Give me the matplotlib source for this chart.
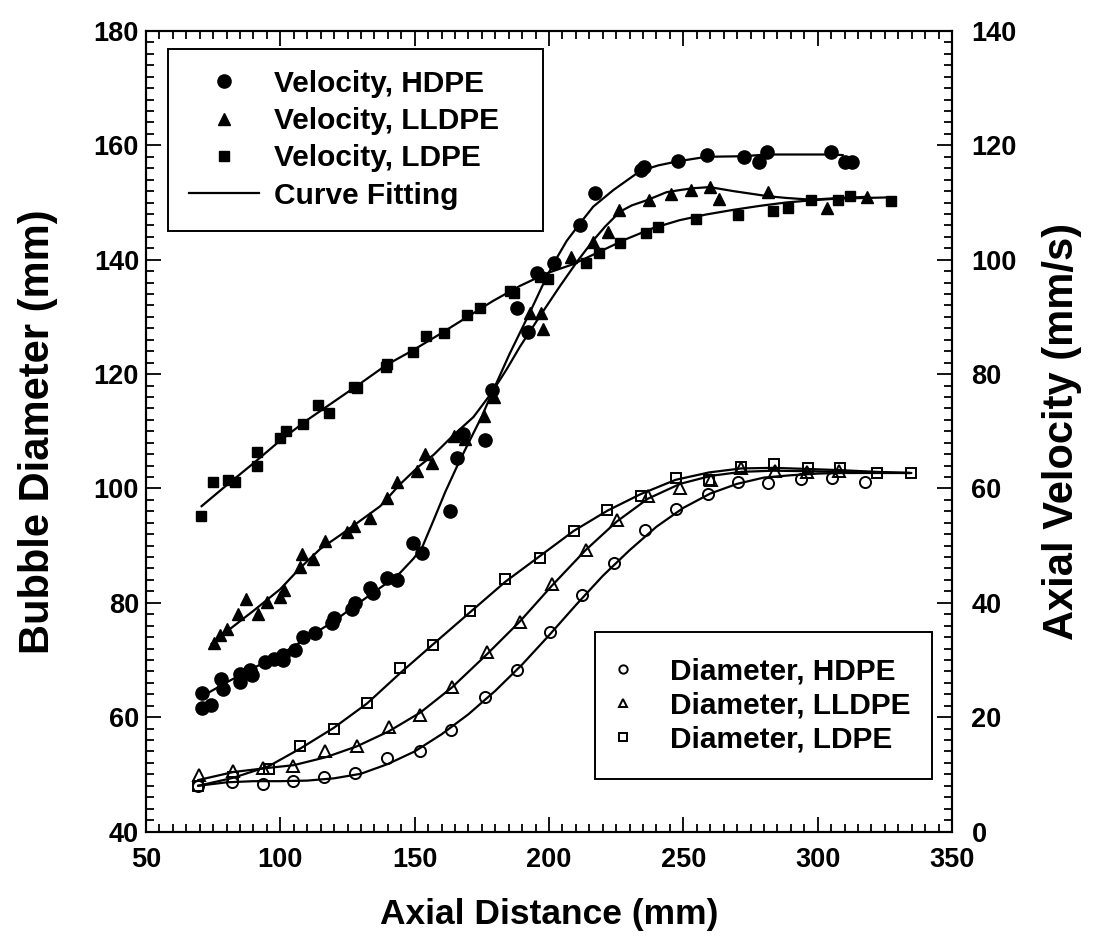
import matplotlib
matplotlib.use("Agg")
import matplotlib.pyplot as plt
from matplotlib.ticker import MultipleLocator

plt.rcParams["font.family"] = ["Liberation Sans", "DejaVu Sans"]
plt.rcParams["font.weight"] = "bold"
plt.rcParams["axes.labelweight"] = "bold"

# ---- measured points: axial velocity (mm/s) ----
vel_hdpe_x = [70.7, 70.7, 74.1, 78.1, 78.8, 85.1, 85.1, 88.7, 89.3, 94.4, 97.5, 101.1, 101.1,
              105.5, 108.6, 113.0, 119.2, 119.8, 126.6, 127.9, 133.4, 134.6, 139.7, 143.3,
              149.5, 152.7, 163.3, 165.9, 167.9, 176.2, 178.6, 188.0, 192.3, 195.6, 201.7,
              211.6, 217.3, 234.1, 235.4, 248.1, 258.7, 272.6, 278.2, 281.3, 305.0, 310.1, 312.6]
vel_hdpe_y = [24.2, 21.6, 22.1, 26.7, 25.0, 27.6, 26.2, 28.2, 27.3, 29.7, 30.2, 30.9, 30.0,
              31.7, 34.1, 34.7, 36.4, 37.3, 39.0, 39.9, 42.6, 41.7, 44.3, 44.0,
              50.4, 48.7, 56.0, 65.3, 69.6, 68.5, 77.3, 91.5, 87.4, 97.7, 99.4,
              106.1, 111.6, 115.7, 116.2, 117.2, 118.3, 118.0, 117.1, 118.8, 118.8, 117.1, 117.1]

vel_lldpe_x = [75.3, 77.5, 80.3, 84.4, 87.4, 91.8, 94.9, 100.0, 101.2, 107.4, 108.0, 112.3,
               116.7, 124.7, 127.3, 133.4, 139.7, 143.3, 150.8, 154.0, 156.5, 164.6, 168.9,
               175.7, 179.5, 193.1, 197.2, 197.6, 208.3, 216.5, 222.0, 225.9, 237.1, 245.3,
               252.8, 259.8, 263.2, 281.6, 303.6, 318.5]
vel_lldpe_y = [32.9, 34.3, 35.5, 38.1, 40.6, 38.1, 40.2, 41.0, 42.2, 46.2, 48.5, 47.7,
               50.8, 52.3, 53.5, 54.9, 58.4, 61.2, 63.1, 66.1, 64.5, 69.1, 68.6,
               72.6, 76.0, 90.7, 90.7, 87.8, 100.5, 103.1, 104.8, 108.7, 110.4, 111.5,
               112.2, 112.7, 110.6, 111.8, 109.0, 110.9]

vel_ldpe_x = [70.5, 74.9, 80.7, 83.2, 91.2, 91.5, 100.0, 102.0, 108.6, 114.2, 118.3, 127.3,
              128.5, 139.3, 139.6, 149.5, 154.1, 160.8, 169.4, 174.3, 185.6, 186.8, 196.7,
              199.6, 213.6, 218.6, 226.6, 236.0, 240.7, 254.7, 270.3, 283.3, 288.9, 297.6,
              307.6, 311.9, 327.4]
vel_ldpe_y = [55.2, 61.2, 61.5, 61.2, 64.0, 66.3, 68.8, 70.1, 71.2, 74.6, 73.2, 77.7,
              77.6, 81.3, 81.7, 83.8, 86.6, 87.1, 90.4, 91.5, 94.5, 94.2, 97.0,
              96.7, 99.4, 101.1, 102.9, 104.6, 105.7, 107.1, 107.8, 108.5, 109.0, 110.4,
              110.4, 111.1, 110.2]

# ---- fitted curves: axial velocity (mm/s) ----
fit_vh_x = [70.7, 80.1, 90.0, 100.0, 109.8, 119.7, 129.6, 139.5, 144.5, 149.5, 152.7, 157.1,
            161.4, 166.3, 170.3, 175.0, 178.6, 185.2, 193.2, 198.7, 202.0, 206.6, 211.6,
            216.5, 224.0, 233.9, 240.7, 247.8, 258.6, 272.5, 281.1, 304.9, 309.3]
fit_vh_y = [23.6, 26.1, 28.6, 30.9, 33.8, 36.7, 40.1, 43.4, 45.2, 47.7, 49.6, 54.5,
            59.4, 64.4, 68.2, 72.6, 76.5, 83.4, 91.1, 96.6, 99.6, 103.3, 106.4,
            109.3, 112.2, 115.5, 116.5, 117.2, 118.0, 118.1, 118.4, 118.4, 118.3]

fit_vl_x = [74.4, 80.1, 90.0, 100.0, 107.4, 114.8, 122.2, 129.6, 137.2, 144.5, 151.4, 157.1,
            164.4, 171.9, 178.6, 184.2, 189.2, 196.7, 204.1, 210.5, 216.5, 220.9, 226.4,
            230.8, 236.4, 243.7, 249.0, 253.6, 259.8, 268.6, 281.6, 288.4, 297.6, 308.3, 318.2]
fit_vl_y = [32.8, 35.0, 38.6, 42.4, 46.1, 49.4, 51.8, 54.3, 56.9, 60.7, 63.8, 65.9,
            69.3, 72.5, 76.7, 80.8, 84.8, 90.2, 95.4, 99.7, 103.4, 105.8, 108.4,
            109.5, 110.4, 111.8, 112.2, 112.5, 112.7, 112.0, 111.1, 110.8, 110.5, 110.8, 111.0]

fit_vd_x = [70.7, 80.1, 90.0, 100.0, 109.8, 119.7, 129.6, 139.5, 149.5, 159.4, 169.3, 179.2,
            189.1, 199.0, 208.9, 218.8, 228.7, 238.6, 248.5, 258.4, 268.3, 278.2, 288.1,
            298.0, 307.9, 317.8, 326.7]
fit_vd_y = [56.9, 60.6, 64.4, 68.4, 71.9, 75.1, 78.3, 81.6, 84.2, 87.0, 89.9, 92.8,
            95.4, 97.6, 99.2, 101.4, 103.6, 105.5, 106.9, 107.9, 108.7, 109.4, 110.0,
            110.4, 110.7, 110.8, 110.9]

# ---- measured points: bubble diameter (mm) ----
dia_hdpe_x = [69.5, 81.9, 93.7, 104.9, 116.1, 127.9, 139.7, 151.9, 163.6, 176.0, 188.1, 200.5,
              212.3, 224.1, 235.9, 247.3, 259.1, 270.5, 281.4, 293.9, 305.2, 317.6]
dia_hdpe_y = [47.9, 48.6, 48.3, 48.9, 49.6, 50.2, 52.8, 54.0, 57.7, 63.5, 68.3, 74.9,
              81.4, 87.0, 92.8, 96.4, 99.1, 101.1, 101.0, 101.6, 101.9, 101.1]

dia_lldpe_x = [69.8, 82.5, 93.6, 104.9, 116.7, 128.5, 140.3, 152.1, 163.9, 176.9, 189.3, 201.1,
               213.6, 225.2, 236.8, 248.8, 260.3, 271.6, 284.0, 296.0, 308.0]
dia_lldpe_y = [49.9, 50.6, 51.1, 51.5, 54.0, 54.9, 58.3, 60.3, 65.2, 71.4, 76.6, 83.3,
               89.3, 94.4, 98.6, 100.0, 101.4, 103.5, 103.0, 102.8, 103.0]

dia_ldpe_x = [69.5, 82.5, 95.6, 107.4, 119.8, 132.3, 144.6, 157.0, 170.5, 183.8, 196.7, 209.3,
              221.7, 234.1, 247.1, 259.6, 271.6, 283.8, 296.4, 308.2, 321.9, 334.8]
dia_ldpe_y = [48.0, 49.5, 51.0, 54.9, 58.0, 62.4, 68.6, 72.7, 78.6, 84.1, 87.9, 92.5,
              96.3, 98.7, 101.9, 101.4, 103.7, 104.3, 103.6, 103.6, 102.7, 102.7]

# ---- fitted curves: bubble diameter (mm) ----
fit_dh_x = [69.5, 80, 90, 100, 110, 120, 130, 140, 150, 160, 170, 180, 190, 200, 210, 220,
            230, 240, 250, 260, 270, 280, 290, 300, 310, 320, 334]
fit_dh_y = [48.0, 48.6, 48.8, 48.8, 48.9, 49.3, 50.1, 51.8, 54.0, 57.0, 60.5, 64.6, 69.2,
            74.3, 79.6, 84.7, 89.2, 93.3, 96.6, 99.1, 100.8, 101.9, 102.3, 102.6, 102.7,
            102.7, 102.7]

fit_dl_x = [69.5, 82.5, 95.0, 105.0, 117.0, 128.5, 140.3, 152.1, 163.9, 176.9, 189.3, 201.1,
            213.6, 225.2, 236.8, 248.8, 260.3, 271.6, 283.5, 298.0, 315.0, 334.0]
fit_dl_y = [49.0, 50.4, 51.1, 51.6, 53.0, 54.9, 57.5, 60.8, 65.2, 71.0, 76.8, 83.0,
            89.2, 94.2, 98.2, 100.8, 102.2, 102.9, 103.1, 103.0, 102.8, 102.7]

fit_dd_x = [69.5, 82.5, 95.6, 107.4, 119.8, 132.3, 144.6, 157.0, 170.5, 183.8, 196.7, 209.3,
            221.7, 234.1, 247.1, 259.6, 271.6, 283.8, 296.4, 308.2, 321.9, 334.8]
fit_dd_y = [48.0, 49.4, 51.4, 54.5, 58.1, 62.4, 67.7, 72.8, 78.3, 83.7, 88.2, 92.6,
            96.1, 99.0, 101.5, 102.8, 103.5, 103.6, 103.4, 103.2, 102.9, 102.7]

W, H = 1104, 951
fig = plt.figure(figsize=(W / 100, H / 100), dpi=100)
L, R, T, B = 146, 952, 31, 831.5
ax1 = fig.add_axes([L / W, 1 - B / H, (R - L) / W, (B - T) / H])
ax2 = ax1.twinx()

line_kw = dict(color="black", lw=1.6, zorder=2)

# diameter on the left axis
ax1.plot(fit_dh_x, fit_dh_y, **line_kw)
ax1.plot(fit_dl_x, fit_dl_y, **line_kw)
ax1.plot(fit_dd_x, fit_dd_y, **line_kw)
open_kw = dict(ls="none", mfc="none", mec="black", mew=1.4, zorder=3)
h_dh, = ax1.plot(dia_hdpe_x, dia_hdpe_y, "o", ms=8, label="Diameter, HDPE", **open_kw)
h_dl, = ax1.plot(dia_lldpe_x, dia_lldpe_y, "^", ms=8, label="Diameter, LLDPE", **open_kw)
h_dd, = ax1.plot(dia_ldpe_x, dia_ldpe_y, "s", ms=7, label="Diameter, LDPE", **open_kw)

# velocity on the right axis
h_fit, = ax2.plot(fit_vh_x, fit_vh_y, label="Curve Fitting", **line_kw)
ax2.plot(fit_vl_x, fit_vl_y, **line_kw)
ax2.plot(fit_vd_x, fit_vd_y, **line_kw)
fill_kw = dict(ls="none", color="black", zorder=3)
h_vh, = ax2.plot(vel_hdpe_x, vel_hdpe_y, "o", ms=9.5, label="Velocity, HDPE", **fill_kw)
h_vl, = ax2.plot(vel_lldpe_x, vel_lldpe_y, "^", ms=8, label="Velocity, LLDPE", **fill_kw)
h_vd, = ax2.plot(vel_ldpe_x, vel_ldpe_y, "s", ms=7.5, label="Velocity, LDPE", **fill_kw)

ax1.set_xlim(50, 350)
ax1.set_ylim(40, 180)
ax2.set_ylim(0, 140)
ax1.xaxis.set_major_locator(MultipleLocator(50))
ax1.xaxis.set_minor_locator(MultipleLocator(5))
ax1.yaxis.set_major_locator(MultipleLocator(20))
ax1.yaxis.set_minor_locator(MultipleLocator(2))
ax2.yaxis.set_major_locator(MultipleLocator(20))
ax2.yaxis.set_minor_locator(MultipleLocator(2))

ax1.tick_params(which="both", direction="in", top=True, right=False, width=1.3)
ax1.tick_params(which="major", length=11, labelsize=19.5)
ax1.tick_params(which="minor", length=5.5)
ax1.tick_params(axis="x", pad=11)
ax1.tick_params(axis="y", pad=5)
ax2.tick_params(which="both", direction="in", width=1.3)
ax2.tick_params(which="major", length=11, labelsize=19.5, pad=14)
ax2.tick_params(which="minor", length=5.5)
for ax in (ax1, ax2):
    for s in ax.spines.values():
        s.set_linewidth(1.5)

ax1.set_xlabel("Axial Distance (mm)", fontsize=25.5, labelpad=18)
ax1.set_ylabel("Bubble Diameter (mm)", fontsize=30, labelpad=26)
ax2.set_ylabel("Axial Velocity (mm/s)", fontsize=30, labelpad=18)

leg_kw = dict(frameon=True, fancybox=False, framealpha=1, edgecolor="black",
              borderaxespad=0, mode="expand", fontsize=21.5)
leg1 = ax2.legend(handles=[h_vh, h_vl, h_vd, h_fit], loc="upper left",
                  bbox_to_anchor=((168 - L) / (R - L), 1 - (49 - T) / (B - T), (543 - 168) / (R - L), 0),
                  handlelength=2.35, handletextpad=0.5, labelspacing=0.31, borderpad=0.7,
                  **leg_kw)
leg1.get_frame().set_linewidth(1.4)
ax2.add_artist(leg1)
leg2 = ax2.legend(handles=[h_dh, h_dl, h_dd], loc="upper left",
                  bbox_to_anchor=((595 - L) / (R - L), 1 - (632 - T) / (B - T), (932 - 595) / (R - L), 0),
                  handlelength=0.2, handletextpad=1.45, labelspacing=0.2, borderpad=0.85,
                  markerscale=0.75, **leg_kw)
leg2.get_frame().set_linewidth(1.4)

fig.savefig("out.png", dpi=100)
